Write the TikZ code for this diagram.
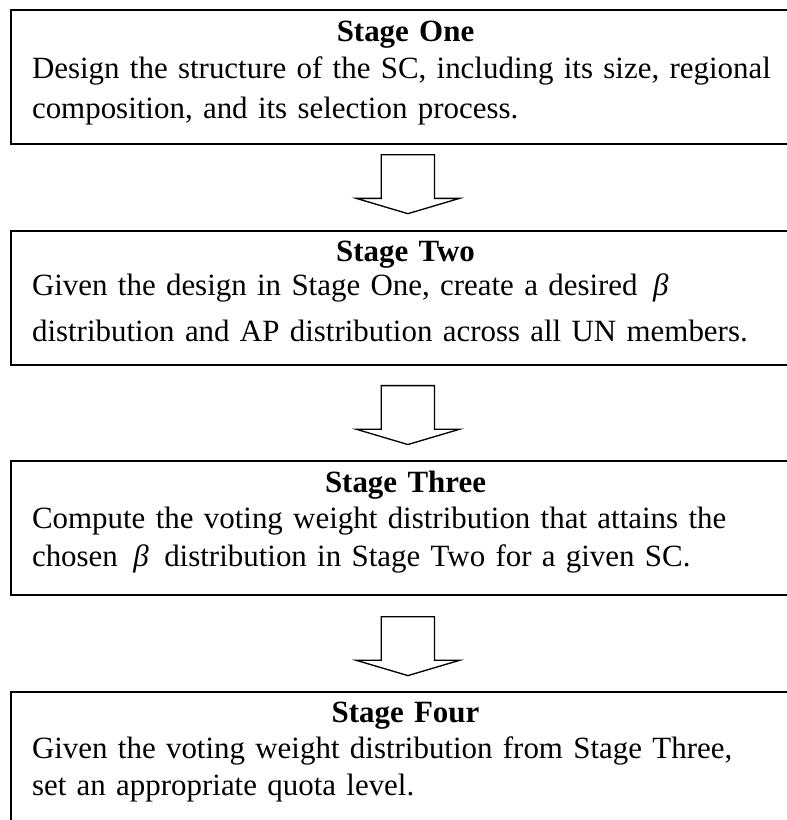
\documentclass[tikz,border=0pt]{standalone}
\usepackage{fontspec}
\setmainfont{Liberation Serif}
\usetikzlibrary{shapes.arrows}

\begin{document}
\begin{tikzpicture}[x=0.375pt,y=-0.375pt,
    stagebox/.style={draw, line width=0.75pt, minimum width=295.9pt, minimum height=50.25pt, inner sep=0pt},
    stagetext/.style={anchor=north, text width=280.1pt, inner sep=0pt, align=left,
        font=\fontsize{11.6pt}{13.9pt}\selectfont},
    downarrow/.style={draw, line width=0.5pt, single arrow, rotate=-90, anchor=tail,
        minimum height=22.1pt, inner xsep=0pt, inner ysep=9.75pt,
        single arrow head extend=9.4pt, single arrow tip angle=147}]
    \useasboundingbox (0,0) rectangle (787,820);
    \clip (0,0) rectangle (787,820);

    % the four stage boxes
    \node[stagebox] (one)   at (405.5,77)  {};
    \node[stagebox] (two)   at (405.5,298) {};
    \node[stagebox] (three) at (405.5,528) {};
    \node[stagebox] (four)  at (405.5,759) {};

    % their texts
    \node[stagetext] (txt1) at ([yshift=-4.2pt]one.north) {\makebox[\linewidth]{\bfseries Stage One}\\[0.2pt]
        Design the structure of the SC, including its size, regional\\[1pt]
        composition, and its selection process.};
    \node[stagetext] (txt2) at ([yshift=-4pt]two.north) {\makebox[\linewidth]{\bfseries Stage Two}\\[-1.2pt]
        Given the design in Stage One, create a desired \,{\itshape β}\\[3.2pt]
        distribution and AP distribution across all UN members.};
    \node[stagetext] (txt3) at ([yshift=-4pt]three.north) {\makebox[\linewidth]{\bfseries Stage Three}\\[-0.6pt]
        Compute the voting weight distribution that attains the\\[0.4pt]
        chosen \,{\itshape β}\, distribution in Stage Two for a given SC.};
    \node[stagetext] (txt4) at ([yshift=-4pt]four.north) {\makebox[\linewidth]{\bfseries Stage Four}\\[-0.6pt]
        Given the voting weight distribution from Stage Three,\\[0.2pt]
        set an appropriate quota level.};

    % block arrows between the stages
    \node[downarrow] (arr1) at ([xshift=0.9pt,yshift=-3.4pt]one.south)   {};
    \node[downarrow] (arr2) at ([xshift=0.9pt,yshift=-7.1pt]two.south)   {};
    \node[downarrow] (arr3) at ([xshift=0.9pt,yshift=-7.5pt]three.south) {};
\end{tikzpicture}
\end{document}
